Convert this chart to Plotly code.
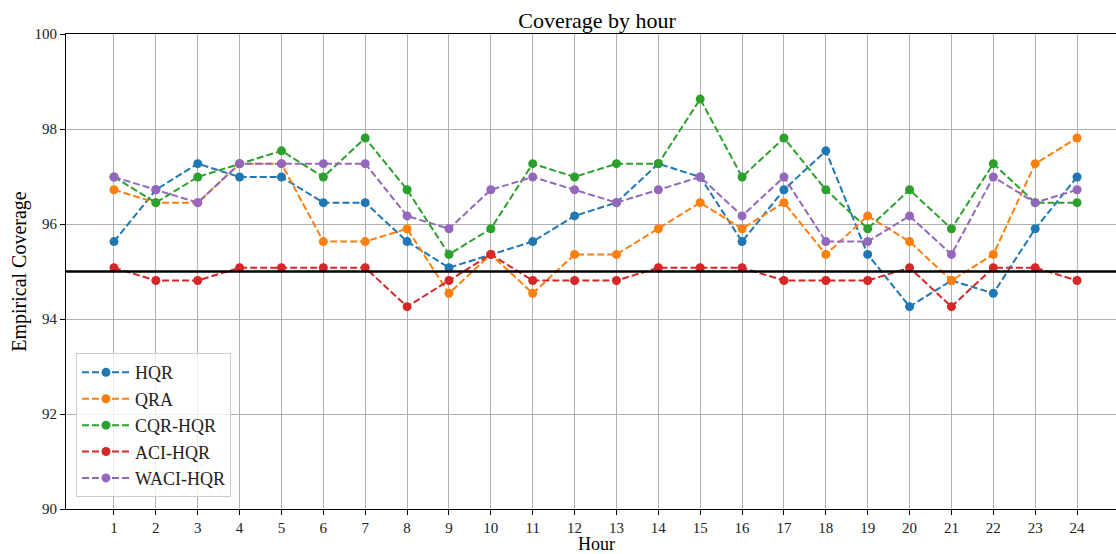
import plotly.graph_objects as go

hours = list(range(1, 25))
hqr = [95.63, 96.72, 97.27, 96.99, 96.99, 96.45, 96.45, 95.63, 95.08, 95.36, 95.63, 96.17,
       96.45, 97.27, 96.99, 95.63, 96.72, 97.54, 95.36, 94.26, 94.81, 94.54, 95.90, 96.99]
qra = [96.72, 96.45, 96.45, 97.27, 97.27, 95.63, 95.63, 95.90, 94.54, 95.36, 94.54, 95.36,
       95.36, 95.90, 96.45, 95.90, 96.45, 95.36, 96.17, 95.63, 94.81, 95.36, 97.27, 97.81]
cqr = [96.99, 96.45, 96.99, 97.27, 97.54, 96.99, 97.81, 96.72, 95.36, 95.90, 97.27, 96.99,
       97.27, 97.27, 98.63, 96.99, 97.81, 96.72, 95.90, 96.72, 95.90, 97.27, 96.45, 96.45]
aci = [95.08, 94.81, 94.81, 95.08, 95.08, 95.08, 95.08, 94.26, 94.81, 95.36, 94.81, 94.81,
       94.81, 95.08, 95.08, 95.08, 94.81, 94.81, 94.81, 95.08, 94.26, 95.08, 95.08, 94.81]
waci = [96.99, 96.72, 96.45, 97.27, 97.27, 97.27, 97.27, 96.17, 95.90, 96.72, 96.99, 96.72,
        96.45, 96.72, 96.99, 96.17, 96.99, 95.63, 95.63, 96.17, 95.36, 96.99, 96.45, 96.72]
target = 95
y_ticks = [90, 92, 94, 96, 98, 100]

series = [("HQR", hqr, "#1f77b4"), ("QRA", qra, "#ff7f0e"), ("CQR-HQR", cqr, "#2ca02c"),
          ("ACI-HQR", aci, "#d62728"), ("WACI-HQR", waci, "#9467bd")]

FONT = "Liberation Serif"
fig = go.Figure()
for name, vals, col in series:
    fig.add_trace(go.Scatter(
        x=hours, y=vals, name=name, mode="lines+markers",
        line=dict(color=col, width=2, dash="7px,3px"),
        marker=dict(color=col, size=9),
    ))

fig.add_shape(type="line", xref="paper", x0=0, x1=1, yref="y", y0=target, y1=target,
              line=dict(color="black", width=2.5), layer="above")

axis_common = dict(showgrid=True, gridcolor="#b0b0b0", gridwidth=1, showline=True,
                   linecolor="black", linewidth=1, mirror=True, ticks="outside",
                   ticklen=5, tickcolor="black", zeroline=False, automargin=False,
                   tickfont=dict(family=FONT, size=15, color="#222"))

fig.update_layout(
    width=1116, height=554,
    margin=dict(l=66, r=0, t=34, b=45, autoexpand=False),
    paper_bgcolor="white", plot_bgcolor="white",
    title=dict(text="Coverage by hour", x=0.535, xanchor="center", y=1 - 20 / 554,
               yref="container", yanchor="middle",
               font=dict(family=FONT, size=22, color="black")),
    font=dict(family=FONT, color="black"),
    xaxis=dict(range=[-0.146, 24.93], tickvals=hours, ticktext=[str(h) for h in hours],
               **axis_common),
    yaxis=dict(range=[90, 100], tickvals=y_ticks, ticktext=[str(v) for v in y_ticks],
               **axis_common),
    legend=dict(x=0.0095, y=0.025, xanchor="left", yanchor="bottom",
                bgcolor="rgba(255,255,255,0.8)", bordercolor="#cccccc", borderwidth=1,
                font=dict(family=FONT, size=18, color="#222"), tracegroupgap=0,
                itemwidth=48),
    showlegend=True,
    annotations=[
        dict(text="Hour", xref="paper", x=0.5048, yref="paper", y=-0.0737, yanchor="middle",
             showarrow=False, font=dict(family=FONT, size=18, color="black")),
        dict(text="Empirical Coverage", xref="paper", x=-0.0445, xanchor="center",
             yref="paper", y=0.5, textangle=-90, showarrow=False,
             font=dict(family=FONT, size=20, color="black")),
    ],
)

fig.write_html("out.html", config={"displayModeBar": False},
               post_script="document.body.style.margin='0';document.body.style.padding='0';")
